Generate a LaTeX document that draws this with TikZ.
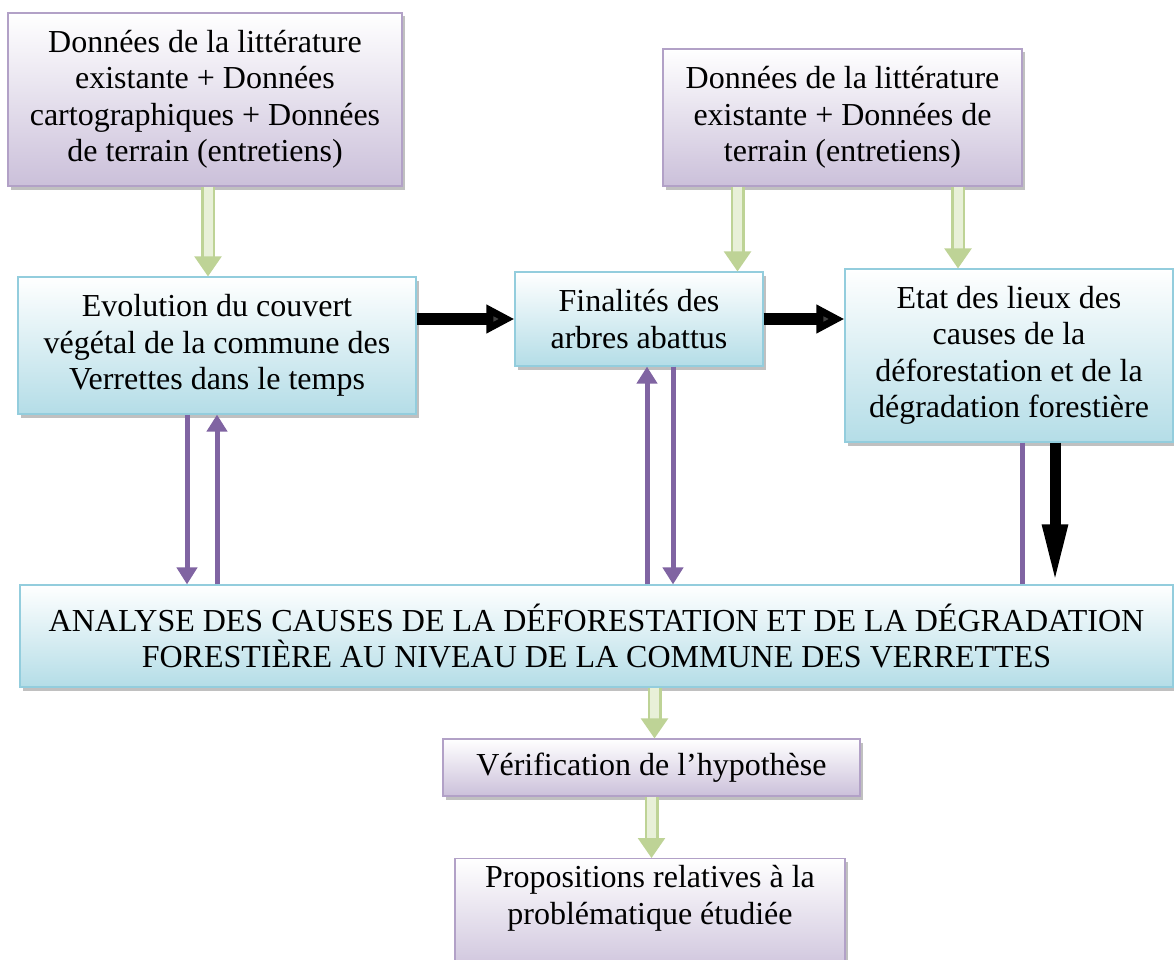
\documentclass[tikz,border=0pt]{standalone}
\usepackage{fontspec}
\setmainfont{Liberation Serif}
\usetikzlibrary{arrows.meta,shadows,calc}
\definecolor{pbot}{RGB}{203,192,218}
\definecolor{pline}{RGB}{178,161,199}
\definecolor{bbot}{RGB}{180,221,231}
\definecolor{bline}{RGB}{147,205,221}
\definecolor{gr}{RGB}{190,211,150}
\definecolor{grin}{RGB}{232,240,216}
\definecolor{purp}{RGB}{128,100,162}
\tikzset{
  basebox/.style={rectangle, inner sep=0pt, align=center, line width=1.2pt,
    font=\fontsize{32}{36.5}\selectfont,
    drop shadow={shadow xshift=2.5pt, shadow yshift=-3.5pt, fill=black!45, opacity=0.55}},
  pbox/.style={basebox, draw=pline, top color=white, bottom color=pbot},
  bbox/.style={basebox, draw=bline, top color=white, bottom color=bbot},
  garrow/.style={draw=gr, line width=2.5pt, double=grin, double distance=9pt,
    -{Triangle[width=27pt,length=20pt,fill=gr]}},
  parrow/.style={draw=purp, line width=5pt, -{Triangle[width=20pt,length=17pt,fill=purp]}},
  pline/.style={draw=purp, line width=5pt},
  karrow/.style={draw=black, line width=12pt, -{Triangle[width=27pt,length=28pt,fill=black!75]}},
  kdarrow/.style={draw=black, line width=11pt, -{Triangle[width=23pt,length=60pt,fill=black!70]}},
}
\begin{document}
\begin{tikzpicture}[x=1pt,y=-1pt]
\useasboundingbox (0,0) rectangle (1174,960);
\clip (0,0) rectangle (1174,960);
% nodes
\node[pbox, minimum width=394pt, minimum height=173pt] (b1) at (205,99.5)
  {Données de la littérature\\existante + Données\\cartographiques + Données\\de terrain (entretiens)};
\node[pbox, minimum width=359pt, minimum height=137pt] (b4) at (842.5,117.5)
  {Données de la littérature\\existante + Données de\\terrain (entretiens)};
\node[bbox, minimum width=398pt, minimum height=137pt] (b2) at (217,345.5)
  {Evolution du couvert\\végétal de la commune des\\Verrettes dans le temps};
\node[bbox, minimum width=248pt, minimum height=94pt] (b3) at (639,319)
  {Finalités des\\arbres abattus};
\node[bbox, minimum width=328pt, minimum height=173pt] (b5) at (1009,355.5)
  {Etat des lieux des\\causes de la\\déforestation et de la\\dégradation forestière};
\node[bbox, minimum width=1153pt, minimum height=102pt] (b6) at (596.5,636)
  {ANALYSE DES CAUSES DE LA DÉFORESTATION ET DE LA DÉGRADATION\\FORESTIÈRE AU NIVEAU DE LA COMMUNE DES VERRETTES};
\node[pbox, minimum width=417pt, minimum height=57pt] (b7) at (651.5,767.5)
  {Vérification de l’hypothèse};
\node[pbox, minimum width=390pt, inner ysep=7pt, anchor=north] (b8) at (650,858)
  {Propositions relatives à la\\problématique étudiée\\\strut};
% green arrows
\draw[garrow] ([xshift=3pt]b1.south) -- ([xshift=3pt]b1.south |- b2.north);
\draw[garrow] ([xshift=-105pt]b4.south) -- ([xshift=-105pt]b4.south |- b3.north);
\draw[garrow] ([xshift=115.5pt]b4.south) -- ([xshift=115.5pt]b4.south |- b5.north);
\draw[garrow] ([xshift=3pt]b7.north |- b6.south) -- ([xshift=3pt]b7.north);
\draw[garrow] (b7.south) -- (b7.south |- b8.north);
% black arrows
\draw[karrow] (b2.east |- b3.west) -- (b3.west);
\draw[karrow] (b3.east) -- (b3.east -| b5.west);
\draw[kdarrow] ([xshift=46pt]b5.south) -- ([xshift=46pt]b5.south |- b6.north);
% purple arrows
\draw[parrow] ([xshift=-30pt]b2.south) -- ([xshift=-30pt]b2.south |- b6.north);
\draw[parrow] (b2.south |- b6.north) -- (b2.south);
\draw[parrow] ([xshift=8pt]b3.south |- b6.north) -- ([xshift=8pt]b3.south);
\draw[parrow] ([xshift=34pt]b3.south) -- ([xshift=34pt]b3.south |- b6.north);
\draw[pline] ([xshift=13pt]b5.south) -- ([xshift=13pt]b5.south |- b6.north);
\end{tikzpicture}
\end{document}
